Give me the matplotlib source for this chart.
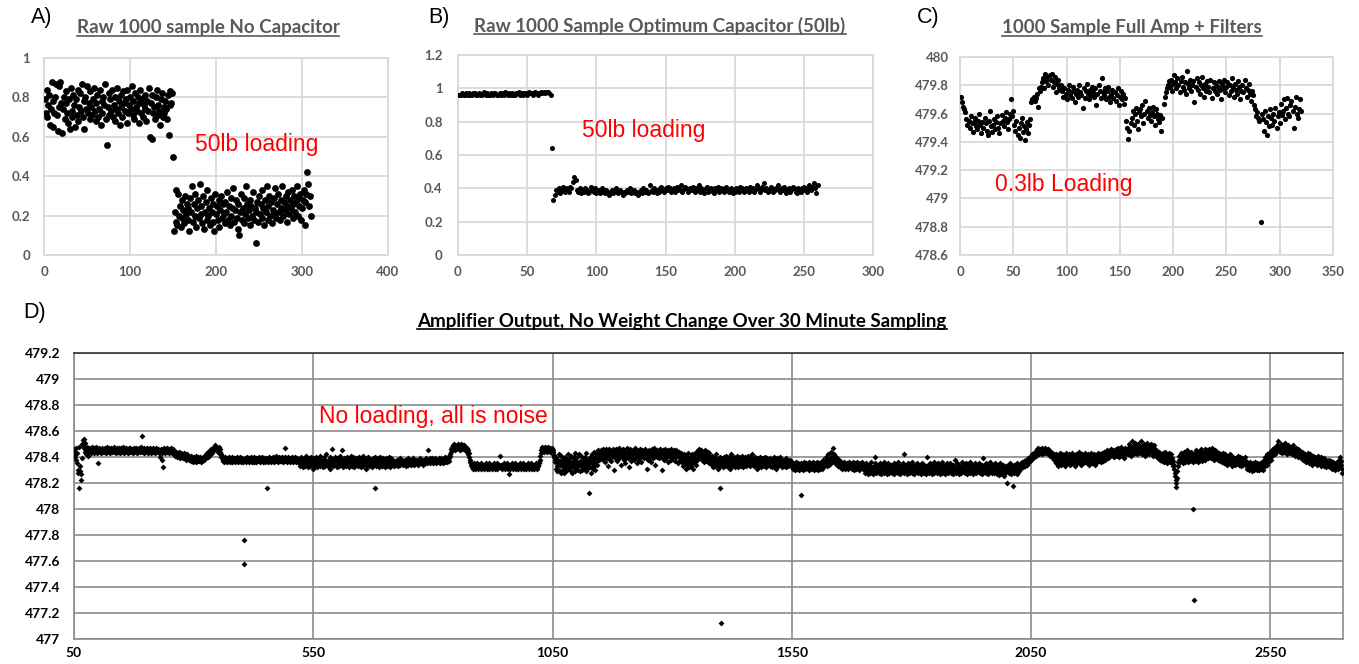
#!/usr/bin/env python3
import numpy as np
import matplotlib
matplotlib.use("Agg")
import matplotlib.pyplot as plt
from matplotlib.ticker import MultipleLocator, FuncFormatter
from matplotlib.lines import Line2D

# --- data ------------------------------------------------------------------
# A) raw reading without capacitor, hundredths of a volt, samples 1..310
a_raw = """
79 72 84 70 76 81 66 74 88 65 78 72 80 87 71 63 75 86 88 77
62 74 80 69 83 77 72 67 79 64 85 73 70 81 76 65 79 71 84 68
75 82 73 87 70 78 64 80 74 86 72 77 69 83 75 71 79 85 73 68
77 81 70 74 84 66 78 72 80 76 87 69 56 75 82 71 79 73 84 70
76 80 68 74 85 72 78 66 81 75 70 83 77 73 79 67 84 72 76 80
74 86 71 78 69 82 75 73 80 67 77 84 72 79 70 76 81 74 68 78
73 85 60 77 59 81 72 75 69 80 84 71 76 73 66 79 82 70 75 72
78 74 69 81 61 76 83 77 82 50
12 22 17 33 15 31 20 25 14 28 19 23 16 30 21 26 18 24 12 29
22 35 17 26 20 31 14 24 28 19 36 21 25 16 30 13 22 27 18 33
20 24 15 29 22 17 26 12 31 21 25 18 28 14 23 30 19 26 21 16
27 22 32 18 25 15 29 20 24 34 17 23 28 19 13 26 10 22 31 18
24 29 16 21 35 26 19 23 28 15 25 20 32 18 24 06 22 27 17 30
21 26 33 19 24 15 28 22 35 18 25 30 20 27 16 23 29 21 34 19
26 31 22 18 28 24 35 20 27 23 30 17 25 32 21 28 24 33 19 26
30 22 27 35 20 29 25 31 18 24 28 33 15 27 31 42 36 25 30 20
"""

# B) raw reading with optimum capacitor, hundredths, samples 1..260
b_raw = """
96 96 97 96 96 97 96 97 96 96 97 97 96 96 97 96 96 97 98 96
97 96 96 97 96 97 97 96 96 97 96 97 96 98 97 96 97 96 97 96
96 97 97 98 96 97 96 97 97 96 98 97 97 96 97 98 97 96 97 98
97 98 97 98 98 97 96 64 33 36
39 38 40 37 39 41 38 40 39 38 41 40 44 47 45 39 38 40 37 39
38 40 39 37 38 41 39 38 40 37 38 39 37 40 38 37 39 38 36 38
39 37 38 40 38 37 39 38 36 38 37 39 38 40 37 38 39 37 38 36
38 39 37 40 38 39 37 38 42 39 38 40 39 37 38 40 41 39 38 40
39 41 40 38 39 40 38 41 39 40 42 38 39 41 40 38 39 40 39 41
38 40 39 42 38 40 39 37 40 41 38 39 40 38 37 40 39 41 38 40
39 38 40 41 39 38 40 39 37 38 40 39 38 41 40 39 38 40 39 38
41 39 40 38 39 42 40 38 39 41 43 39 40 38 39 41 40 38 39 40
42 39 38 40 39 41 37 39 40 38 39 41 40 38 37 40 39 38 40 41
39 38 40 42 39 41 43 40 37 42
"""

# C) full amp + filters, hundredths above 479, samples 1..320
c_raw = """
72 68 65 63 61
56 52 55 50 58 53 47 54 57 51 49 55 60 52 46 54 50 57 53 48
45 55 62 51 47 52 56 49 54 58 50 46 53 59 55 51 57 61 54 49
56 60 70 58 62
52 48 55 45 50 43 53 57 47 51 41 49 54 46 52
56 68 70 72 69 71 74 65 78 76
79 82 85 78 88 83 86 80 87 84 88 79 82 86 75 81 84 78 77 80
76 72 78 74 70 77 80 73 75 71 79 76 68 74 77 72 80 75 73 64
78 71 76 81 74 70 77 73 79 75 72 78 66 74 80 76 71 85 75 73
78 70 76 79 72 68 74 77 71 75 69 73 78 66 72 76 70 74 67 71
55 50 42 48 53
57 62 52 60 64 55 49 61 63 58 66 53 60 69 62 57 64 59 55 61
65 58 52 63 60 56 54 59 48 57
67 72 75 78 80 83
79 84 76 81 87 82 78 85 80 75 83 86 79 77 82 74 90 81 78 84
76 80 83 68 79 85 77 82 74 80 86 78 72 81 76 83 79 75 84 71
78 82 76 80 74 79 83 77 70 81 78 84 75 79 82 73 80 76 85 78
72 81 77 74 83 79 70 76 80 75 84 78 72 77 81 74 69 76 73
66 63 58 61 57 55 -17
60 56 48 62 54 45 58 51 63 57 52 60 55 64 50 58 61 53 67 59
62 70 56 64 71 60 58 66 69 62 50 65 72 60 57 63 70 62
"""

# D) amplifier output over 30 minutes, hundredths above 478, samples from 50
d_part1 = """
44 46 40 42 47 38 35 43 30 28 48 16 33 29 27 22 39 50 49 53 54 47 44 51 46 42 45 43 48 44 41
45 47 44 46 43 45 48 44 46 45 43 47 45 44 46 48 45 43 46 44 35 45 47 44 46 45 43 46 47 44
45 46 44 47 45 43 46 48 45 44 46 45 47 44 45 43 46 47 45 44 46 45 48 44 45 46 43 45 47 46
44 45 47 46 44 43 46 45 47 44 45 46 48 45 43 44 46 47 45 44 46 45 43 47 46 44 45 47 45 44
46 45 43 46 47 44 45 46 44 47 45 43 46 44 45 47 46 44 45 48 45 56 44 46 45 43 47 45 44 46
45 47 44 43 46 45 44 47 46 45 43 44 46 45 47 44 45 46 43 45 47 44 46 45 44 46 45 43 40 44
45 46 43 38 32 44 46 45 47 44 43 46 45 44 47 45 46 43 44 46 45 47 44 43 45 46 44 42 43 44
43 41 44 42 40 43 41 42 44 40 39 42 43 41 40 42 39 41 43 40 42 39 41 40 38 42 40 39 41 40
38 40 39 41 37 40 38 39 36 40 38 37 39 41 38 36 39 37 40 38 39 37 38 40 36 38 39 37 38 40
39 38 41 40 42 39 41 43 40 42 44 41 43 45 42 44 46 43 45 47
46 48 45 47 49 46 48 45 47 44 46 48 45 43 46 44 42 40 41 39
38 37 39 36 38 40 37 38 36 39 37 38 40 37 36 38 39 37 38 40 36 38 37 39 38 36 37 39 38 40
37 38 36 39 37 38 40 36 38 37 39 38 36 37 -24 -42 38 39 37 36 38 40 37 38 36 39 37 38 40 37
36 38 39 37 38 36 40 38 37 39 36 38 37 39 38 40 37 36 38 39 37 38 40 36 38 37 39 38 36 37
39 38 16 37 36 38 40 37 39 38 36 37 39 38 40 37 38 36 39 37 38 40 41 38 37 39 36 38 40 37
38 39 37 40 38 36 39 37 38 40 47 38 37 39 36 38 40 37 38 39
36 38 37 39 40 37 38 36 39 37 38 40 36 38 37 39 38 36 37 38
36 33 38 35 40 34 37 32 36 39 35 38 33 37 41 34 36 32 38 35 39 36 33 37 40 35 34 38 31 36
39 34 37 33 36 40 35 32 38 36 34 39 37 33 41 35 38 34 36 32 37 40 35 33 38 36 42 34 37 35
33 38 36 40 34 31 37 39 35 46 36 33 38 35 40 37 34 36 32 39 35 38 36 33 37 41 34 36 38 45
34 37 32 36 39 35 38 33 37 40 36 34 38 32 35 39 36 41 34 37 33 36 40 35 38 32 36 39 34 37
35 39 33 37 36 40 34 38 32 36 39 35 37 33 41 36 34 38 35 31 37 39 34 36 40 35 33 38 36 34
38 35 32 37 39 34 36 40 16 35 37 33 38 36 34 39 35 32 37 40 36 34 38 33 36 39 35 37 32 36
39 34 37 35 33 38 36 40 34 37 32 36 39 35 38 34 36 33 37 35
"""

d_part2 = """
36 34 37 35 38 36 33 37 35 36 39 34 36 37 35 38 36 34 37 35 36 38 33 36 37 35 39 36 34 37
35 37 36 38 34 36 37 35 39 36 34 37 36 38 35 37 36 34 38 36 37 35 39 36 37 35 38 36 34 37
36 38 35 37 39 36 37 35 38 45 36 37 39 35 38 36 37 39 36 38 35 37 38 36 39 37 35 38 36 37
38 36 39 37 35 38 37 39 36 38 37 35 39 38 36 40 37 39 38 36 40 38 37 39 41
42 44 46 48 45 47 49 46 48 50 47 45 48 46 49 47 50 48 46 49 47 45 48 50 47
46 49 48 46 47 49 45 48 47 46 44 47 45 42 40 43 38 36 35 34
33 32 34 31 33 35 32 33 31 34 32 33 35 32 31 33 34 32 33 35 31 33 32 34 33 31 32 34 33 35
32 33 31 34 32 33 35 31 33 32 34 33 31 32 34 33 35 32 31 33 34 32 33 35 31 33 32 34 33 41
32 34 33 31 32 34 33 35 32 31 33 34 32 33 35 31 33 32 34 27 31 32 34 33 35 32 31 33 34 32
33 35 31 33 32 34 33 31 32 34 33 35 32 31 33 34 32 33 35 31 33 32 34 33 31 32 34 33 35 32
31 33 34 32 33 35 31 33 32 34 33 31 32 34 33 35 32 31 33 34 36 35 38 41 43
45 47 46 48 45 47 44 46 48 45 47 46 44 47 45 48 46 45 47 44 46 45 47 43 45 44 42 40 41 38
36 31 40 33 29 38 35 42 30 34 37 28 41 33 36 30 39 34 28 37 32 40 35 29 38 33 42 31 36 34
30 39 33 41 35 28 37 32 40 34 29 38 43 31 36 33 40 30 35 42 34 29 37 33 41 36 30 38 34 39
32 40 35 29 37 43 33 31 38 34 12 36 40 32 28 37 42 35 31 39 33 44 36 30 41 38 34 42 37 45
40 43 38 44 41
42 45 39 43 46 38 42 44 36 43 40 46 39 42 45 33 43 40 46 42 38 44 37 43 41 46 42 30 44 39
43 40 46 42 37 44 41 47 39 43 40 45 34 42 45 40 43 46 38 42 44 35 43 40 47 42 39 44 32 43
40 46 42 44 37 43 40 45 42 38 44 43 47 40 43 35 45 41 44 38 43 40 46 42 36 44 41 45 40 43
39 44 42 46 40 43 31 44 41 38 45 43 40 44 36 42 46 43 39 44 41 47 40 43 34 44 42 45 40 43
44 39 43 46 41 40 44 30 43 45 40 42 44 38 43 46 41 39 44 43 36 45 42 44 40 43 46 38 42 44
43 40 45 41 44 37 43 40 45 42 44 35 43 40 44 41 38 43 40 36
36 40 33 38 42 35 39 31 37 41 34 38 43 36 32 39 35 40 37 33 42 36 38 31 40 35 39 43 34 37
"""

d_part3 = """
44 38 42 45 39 43 46 41 44 40 45 38 42 44 39 43 36 41 45 38 42 40 37 44 39 35 41 43 38 40
36 39 34 41 37 32 38 35 40 33 37 42 34 38 31 36 39 35 40 33 16 -88 37 34 38 32 36 40 35 39
33 37 41 35 38 32 36 40 34 37 31 39 35 42 36 33 38 34 40 37 32 36 39 34 41 35 38 32 37 40
34 38 36 33 39 35 41 37 32 38 34 40 36 39 33 37 35 41 38 34 36 40 33 38 35 39 42 36 34 37
33 38 36 40 34 37 31 39 35 38 33 36 40 34 37 32 38 35 39 36 33 37 34 40 36 38 32 35 39 37
34 38 36 33 39 35 37 32 38 34 36 40 33 37 35 38 31 36 39 34 37 33 38 35 36 40 34 37 32 35
38 34 36 33 37 35 39 32 36 34 38 35 33 37 36 34 38 35 33 36
33 31 35 32 34 30 33 36 32 34 31 33 35 32 30 34 33 31 11 35 32 34 30 33 36 32 31 34 33 35
32 34 31 33 36 30 34 32 35 33 31 34 32 36 33 30 35 32 34 31 33 36 32 34 30 33 35 31 34 32
36 33 31 34 38 32 35 33 37 34 40 36 33 38 35 42 37 34 39 36 44 38 35 41 37 47 39 36 42 38
35 40 37 34 39 36 33 38 35 32 37 34 36 33 35 31 34 32 36 33 35 31 34 32 33 35 31 34 36 32
33 35 32 34 31 33 36 32 34 30 33 35 32 34 31 33 36 32 34 30 33 35 31 34 32 36 33 31 34 32
31 34 28 33 30 35 29 32 27 31 34 30 28 33 31 36 29 32 30 27 33 31 35 40 29 32 28 34 31 30
33 28 31 35 30 27 32 34 29 31 33 28 36 30 32 29 34 31 27 33 30 35 28 32 31 29 34 30 33 28
32 30 35 27 31 33 29 34 30 32 28 36 31 29 33 30 27 34 31 32 29 35 30 42 28 33 31 30 34 27
32 29 35 31 28 33 30 34 29 32 36 28 31 33 30 27 34 32 29 31 35 30 28 33 31 29 34 30 32 27
33 30 35 29 31 34 28 32 30 27 33 40 29 34 31 28 32 35 30 29 33 31 27 34 30 32 28 36 31 29
34 30 32 28 35 31 29 33 27 32 30 34 28 31 36 29 33 30 32 27 34 31 29 35 30 28 33 31 32 29
35 28 31 33 30 27 34 32 29 31 38 30 33 28 32 35 29 31 34 27 30 33 31 28 36 30 32 29 34 31
28 33 30 35 29 32 27 34 31 30 33 28 36 31 29 32 34 30 27 33 31 35 29 32 28 34 30 31 33 29
32 35 28 31 33 30 27 34 31 39 29 33 30 32 28 35 31 29 34 30 27 33 31 36 29 32 30 28 34 31
30 33 28 32 35 29 31 34 27 32 30 33 28 26 32 35 29 31 30 27 33 34 25 30 32 28 33 31 29 20
31 34 28 32 30 35 29 33 27 32 31 18 30 34 28 32 29 33 30 27 35 31 33 29 32
"""

d_part4 = """
31 34 32 35 33 36 34 32 35 37 34 36 33 35 38 36 34 37 39 36 38 40 37 39 41 38 40 42 39 41 43 40 42 44 41
44 46 43 45 47 44 42 45 46 43 44 47 45 42 46 44 43 45 47 44 46 43 45 44 42 46 44 45 43 41 44 42 40 43 41 39 42 40 38 41
38 42 35 40 37 33 41 38 36 43 39 34 40 37 42 35 38 41 36 39 33 40 37 43 38 35 41 36 39 42
37 34 40 38 43 35 39 36 41 38 33 40 37 42 36 39 35 41 38 44 36 40 37 34 39 42 38 35 41 37
39 43 36 38 41 35 40 37 42 38 34 39 36 41 37 43 38 35 40 36 39 42 37 34 40 38 41 36 39 43
38 40 37 42 39 36 41 38 43 40 37 44 39 41 38 42 40 45 41 43 39 44 42 40 45 41 43 46 42 44
41 45 43 40 44 42 46 43 41 45 42 47 44 40 46 43 45 42 48 44 41 46 43 45 39 44 47 42 45 43
44 47 42 46 50 43 45 48 41 46 52 44 47 42 49 45 43 51 46 44 48 42 47 50 45 43 48 46 52 44
47 42 49 45 43 50 46 41 48 44 47 51 43 46 49 42 45 48 44 50 46 43 47 41 45 49 44 42 46 43
45 41 44 40 43 39 42 44 40 38
39 42 37 40 43 38 41 36 39 44 37 40 42 38 35 41 39 43 37 40 36 42 38 35 39 33 37 34
31 28 25 22 20 17 24 29 33 36
38 41 36 40 43 37 39 42 35 40 38 44 36 41 39 37 42 38 45 40 36 43 39 41 37 44 40 38 42 36
0 -70 39 43 37 41 45 38 40 36 42 39 44 37 41 38 46 40 43 37 41 39 44 42 38 46 40 43 41 45
39 44 42 40 46 41 43 39 45 42 47 40 44 38 42 45 41 43 39 44 40 42 38 43 41 37 40 39 42 38
41 36 40 43 38 35 39 42 37 40 34 38 41 36 39 37 42 35 38 40 36 39 33 37 40 35 38 36 34 37
39 35 38 41 36 34 37 40 35 38 33 36 39 35 37 34 38 36 40 35 37 34
33 31 35 32 30 34 33 36 31 33 29 34 32 35 30 33 31 34 36 32 33 30 35 31 34 32 30 33 35 31
34 32 36 33 30 35 38 33 40 37 35 39 34 42 38 36 41 37 44 40 38 43 45 41 46 43 47 44 42 45
46 48 44 47 49 45 52 46 48 44 47 50 45 43 48 46 49 44 47 51 45 43 46 48 42 47 45 49 44 46
48 43 46 44 47 42 45 49 43 46 41 44 47 42 45 43 40 44 46 42 45 41 43 39 42 44 40 43 38 41
40 37 42 39 36 41 38 43 37 40 35 39 42 38 36 40 37 34 39 41 36 38 35 40 37 39 34 38 41 36
38 35 39 36 33 37 40 35 38 34 36 39 33 37 35 38 32 36 34 37 33 35 38 32 36 34 37 33 35 31
34 36 32 35 33 30 34 32 36 33 31 35 38 33 36 40 34 37 31 28
"""


def parse(block):
    return np.array(block.split(), dtype=float)


a_y = parse(a_raw) / 100
b_y = parse(b_raw) / 100
c_y = 479 + parse(c_raw) / 100
d_y = 478 + parse(d_part1 + d_part2 + d_part3 + d_part4) / 100

a_x = np.arange(1, len(a_y) + 1)
b_x = np.arange(1, len(b_y) + 1)
c_x = np.arange(1, len(c_y) + 1)
d_x = np.arange(50, 50 + len(d_y))

# --- styling ----------------------------------------------------------------
GRAY_TXT = '#595959'
LIGHT_GRID = '#d9d9d9'
DARK_GRID = '#8c8c8c'
TICK_FONT = 'Lato'
NOTE_SIZE = 16.5
general = FuncFormatter(lambda v, p: '%g' % round(v, 3))

W, H = 1359, 664
fig = plt.figure(figsize=(W / 100, H / 100), dpi=100)


def px_axes(left, top, right, bottom):
    return fig.add_axes([left / W, 1 - bottom / H, (right - left) / W, (bottom - top) / H])


def style_small(ax, xstep, ystep, padx, pady):
    ax.xaxis.set_major_locator(MultipleLocator(xstep))
    ax.yaxis.set_major_locator(MultipleLocator(ystep))
    ax.xaxis.set_major_formatter(general)
    ax.yaxis.set_major_formatter(general)
    ax.grid(True, color=LIGHT_GRID, lw=1.3)
    ax.set_axisbelow(True)
    for s in ax.spines.values():
        s.set_color(LIGHT_GRID)
        s.set_linewidth(1.3)
    ax.tick_params(axis='x', length=0, pad=padx, labelcolor=GRAY_TXT, labelsize=9.5)
    ax.tick_params(axis='y', length=0, pad=pady, labelcolor=GRAY_TXT, labelsize=9.5)
    for lab in ax.get_xticklabels() + ax.get_yticklabels():
        lab.set_fontfamily(TICK_FONT)
        lab.set_fontweight('bold')


def note(ax, x, y, txt):
    ax.text(x, y, txt, color='red', fontsize=NOTE_SIZE, family='Liberation Sans',
            ha='left', va='center')


# A
ax_a = px_axes(44, 58, 388, 255)
ax_a.scatter(a_x, a_y, s=24, color='black', lw=0, zorder=3)
ax_a.set_xlim(0, 400)
ax_a.set_ylim(0, 1)
style_small(ax_a, 100, 0.2, 8, 10)
note(ax_a, 176, 0.56, '50lb loading')

# B
ax_b = px_axes(458, 55, 873, 255)
ax_b.scatter(b_x, b_y, s=13, color='black', lw=0, zorder=3)
ax_b.set_xlim(0, 300)
ax_b.set_ylim(0, 1.2)
style_small(ax_b, 50, 0.2, 8, 11)
note(ax_b, 90, 0.75, '50lb loading')

# C
ax_c = px_axes(960, 57, 1333, 255)
ax_c.scatter(c_x, c_y, s=14, color='black', lw=0, zorder=3)
ax_c.set_xlim(0, 350)
ax_c.set_ylim(478.6, 480)
style_small(ax_c, 50, 0.2, 8, 8)
note(ax_c, 33, 479.095, '0.3lb Loading')

# D
ax_d = px_axes(74, 353, 1343, 639)
ax_d.scatter(d_x, d_y, s=9, marker='D', color='black', lw=0, zorder=3)
ax_d.set_xlim(50, 2702)
ax_d.set_ylim(477, 479.2)
ax_d.set_xticks(np.arange(50, 2700, 500))
ax_d.yaxis.set_major_locator(MultipleLocator(0.2))
ax_d.yaxis.set_major_formatter(general)
ax_d.grid(True, color=DARK_GRID, lw=1.2)
ax_d.set_axisbelow(True)
for name, s in ax_d.spines.items():
    s.set_color('#333333' if name == 'top' else DARK_GRID)
    s.set_linewidth(1.2)
ax_d.tick_params(length=0, labelcolor='black', labelsize=10)
ax_d.tick_params(axis='x', pad=6)
ax_d.tick_params(axis='y', pad=10)
for lab in ax_d.get_xticklabels() + ax_d.get_yticklabels():
    lab.set_fontfamily(TICK_FONT)
    lab.set_fontweight('bold')
note(ax_d, 562, 478.715, 'No loading, all is noise')

# panel letters
for letter, x, y in [('A)', 31, 18), ('B)', 428, 18), ('C)', 917, 18), ('D)', 23, 312)]:
    fig.text(x / W, 1 - y / H, letter, fontsize=15.5, family='Liberation Sans',
             ha='left', va='center')

# titles, underlined like the spreadsheet ones
titles = [
    ('Raw 1000 sample No Capacitor', 208, 33, GRAY_TXT),
    ('Raw 1000 Sample Optimum Capacitor (50lb)', 660, 31.5, GRAY_TXT),
    ('1000 Sample Full Amp + Filters', 1132, 33, GRAY_TXT),
    ('Amplifier Output, No Weight Change Over 30 Minute Sampling', 682, 327, 'black'),
]
title_artists = []
for txt, cx, base, col in titles:
    t = fig.text(cx / W, 1 - base / H, txt, color=col, fontsize=13.5,
                 family=TICK_FONT, fontweight='bold', ha='center', va='baseline')
    title_artists.append(t)

fig.canvas.draw()
renderer = fig.canvas.get_renderer()
for t in title_artists:
    bb = t.get_window_extent(renderer)
    _, ybase = t.get_transform().transform(t.get_position())
    y = (ybase - 2.5) / H
    fig.add_artist(Line2D([bb.x0 / W, bb.x1 / W], [y, y], transform=fig.transFigure,
                          color=t.get_color(), lw=1.2))

fig.savefig('out.png', dpi=100)
